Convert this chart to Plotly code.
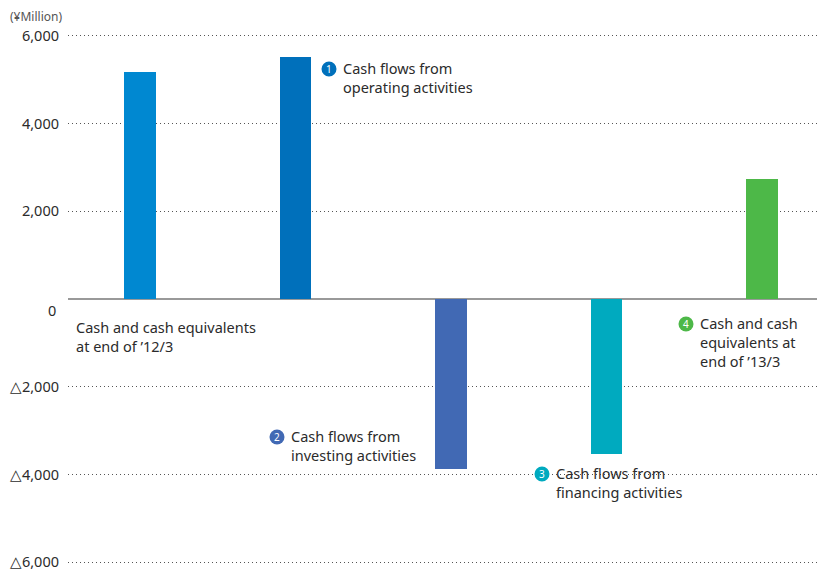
import plotly.graph_objects as go

categories = ["Cash and cash equivalents at end of '12/3", "Cash flows from operating activities",
              "Cash flows from investing activities", "Cash flows from financing activities",
              "Cash and cash equivalents at end of '13/3"]
values = [5180, 5520, -3870, -3530, 2740]
colors = ["#0088d1", "#0070bb", "#4169b4", "#00aabf", "#4db848"]
tick_vals = [6000, 4000, 2000, 0, -2000, -4000, -6000]
tick_text = ["6,000", "4,000", "2,000", "", "△2,000", "△4,000", "△6,000"]
zero_label = "0"

FONT = "Noto Sans"
TXT = "#2b2b2b"

fig = go.Figure()
fig.add_trace(go.Bar(x=list(range(len(values))), y=values, marker_color=colors,
                     width=0.205, hoverinfo="skip", marker_line_width=0))

# page body has an 8px margin; figure is sized/offset to compensate
fig.update_layout(
    width=817, height=565, plot_bgcolor="white", paper_bgcolor="white",
    margin=dict(l=60, r=0, t=26, b=9, autoexpand=False), showlegend=False, bargap=0,
    font=dict(family=FONT, color=TXT, size=14),
    xaxis=dict(range=[-0.463, 4.405], showticklabels=False, showgrid=False, zeroline=False,
               automargin=False),
    yaxis=dict(range=[-6040, 6040], tickvals=tick_vals, ticktext=tick_text, automargin=False,
               showgrid=True, gridcolor="#555555", griddash="1px,3px", gridwidth=1,
               zeroline=True, zerolinecolor="#999999", zerolinewidth=2,
               ticks="", ticklabelstandoff=8, tickfont=dict(size=14.5, color=TXT)),
)

TOP, BOT, LEFT, W = 34, 564, 68, 757.0


def px_x(px):
    return (px - LEFT) / W


def px_y(py):
    return (BOT - py) / float(BOT - TOP)


fig.add_annotation(x=px_x(10), y=px_y(16), xref="paper", yref="paper", text="(¥Million)",
                   showarrow=False, xanchor="left", yanchor="middle", borderpad=0, borderwidth=0,
                   font=dict(size=12, color="#555555"))

# zero tick label sits slightly below the baseline in the reference
fig.add_annotation(x=px_x(56), y=px_y(310), xref="paper", yref="paper", text=zero_label,
                   showarrow=False, xanchor="right", yanchor="middle", borderpad=0, borderwidth=0,
                   font=dict(size=14.5, color=TXT))

labels = [
    (None, 76, 317, "Cash and cash equivalents<br>at end of ’12/3"),
    ("1", 343, 58, "Cash flows from<br>operating activities"),
    ("2", 291, 426, "Cash flows from<br>investing activities"),
    ("3", 556, 463, "Cash flows from<br>financing activities"),
    ("4", 700, 313, "Cash and cash<br>equivalents at<br>end of ’13/3"),
]
for i, (num, lx, ly, txt) in enumerate(labels):
    fig.add_annotation(x=px_x(lx), y=px_y(ly), xref="paper", yref="paper", text=txt,
                       showarrow=False, xanchor="left", yanchor="top", align="left",
                       borderpad=0, borderwidth=0,
                       font=dict(size=14.5, color=TXT))
    if num:
        cx, cy = lx - 14, ly + 11
        fig.add_shape(type="circle", xref="paper", yref="paper",
                      xsizemode="pixel", ysizemode="pixel",
                      xanchor=px_x(cx), yanchor=px_y(cy),
                      x0=-7.5, x1=7.5, y0=-7.5, y1=7.5,
                      fillcolor=colors[i], line_width=0)
        fig.add_annotation(x=px_x(cx), y=px_y(cy), xref="paper", yref="paper", text=num,
                           showarrow=False, xanchor="center", yanchor="middle",
                           borderpad=0, borderwidth=0,
                           font=dict(size=10, color="white"))

fig.write_html("out.html")
